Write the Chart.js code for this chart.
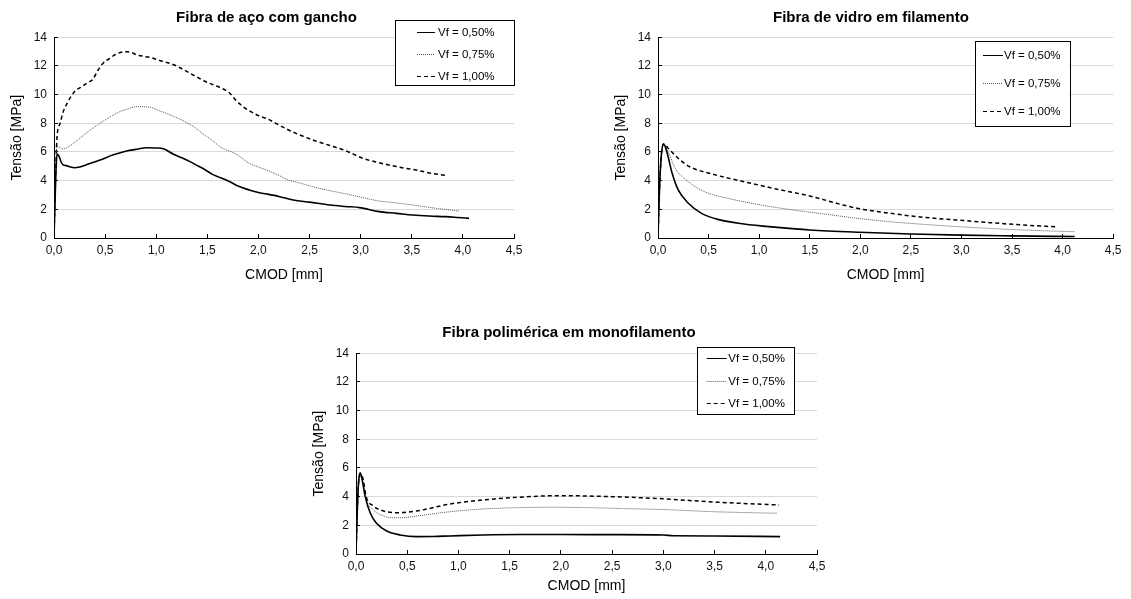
<!DOCTYPE html>
<html>
<head>
<meta charset="utf-8">
<title>Tensão x CMOD</title>
<script src="https://cdn.jsdelivr.net/npm/chart.js@4.4.1/dist/chart.umd.min.js"></script>
<style>
  body { margin: 0; background: #fff; }
  #wrap { position: relative; width: 1131px; height: 599px; overflow: hidden; }
  canvas { position: absolute; }
</style>
</head>
<body>
<div id="wrap">
  <canvas id="chartSteel" width="560" height="290" style="left:0;top:0"></canvas>
  <canvas id="chartGlass" width="527" height="290" style="left:604px;top:0"></canvas>
  <canvas id="chartPoly" width="560" height="283" style="left:302px;top:316px"></canvas>
</div>
<script>
// Labels
const chartTitles = ['Fibra de aço com gancho', 'Fibra de vidro em filamento', 'Fibra polimérica em monofilamento'];
const seriesLabels = ['Vf = 0,50%', 'Vf = 0,75%', 'Vf = 1,00%'];
const xTickLabels = ['0,0', '0,5', '1,0', '1,5', '2,0', '2,5', '3,0', '3,5', '4,0', '4,5'];
const yTickLabels = ['0', '2', '4', '6', '8', '10', '12', '14'];

// [CMOD mm, tensão MPa]
const steel050 = [[0,0],[0.01,2.5],[0.02,4.8],[0.03,5.86],[0.05,5.7],[0.07,5.3],[0.09,5.1],[0.12,5.05],[0.16,4.95],[0.2,4.9],[0.24,4.93],[0.35,5.2],[0.45,5.44],[0.58,5.8],[0.71,6.07],[0.8,6.18],[0.905,6.3],[1.0,6.28],[1.07,6.23],[1.165,5.86],[1.25,5.6],[1.33,5.33],[1.39,5.1],[1.47,4.8],[1.55,4.44],[1.63,4.2],[1.72,3.93],[1.8,3.62],[1.91,3.35],[2.0,3.17],[2.08,3.07],[2.2,2.9],[2.34,2.65],[2.5,2.5],[2.7,2.3],[2.85,2.2],[2.99,2.12],[3.18,1.84],[3.35,1.72],[3.51,1.6],[3.67,1.53],[3.83,1.49],[3.95,1.43],[4.06,1.37]];
const steel075 = [[0,0],[0.01,3],[0.02,5.5],[0.03,6.42],[0.06,6.3],[0.09,6.21],[0.15,6.4],[0.25,6.95],[0.35,7.5],[0.45,8.0],[0.55,8.45],[0.645,8.81],[0.72,9.0],[0.81,9.16],[0.94,9.12],[1.02,8.9],[1.1,8.7],[1.18,8.45],[1.26,8.19],[1.39,7.65],[1.45,7.3],[1.52,6.95],[1.65,6.26],[1.78,5.86],[1.91,5.21],[2.0,4.95],[2.08,4.74],[2.21,4.33],[2.29,4.05],[2.4,3.85],[2.53,3.58],[2.7,3.3],[2.86,3.07],[3.0,2.85],[3.18,2.58],[3.35,2.45],[3.51,2.3],[3.74,2.07],[3.96,1.88]];
const steel100 = [[0,0],[0.01,3],[0.02,5.5],[0.03,7.07],[0.06,8.0],[0.09,8.8],[0.12,9.28],[0.2,10.2],[0.26,10.5],[0.32,10.8],[0.38,11.07],[0.43,11.7],[0.48,12.19],[0.55,12.55],[0.61,12.84],[0.71,13.0],[0.76,12.93],[0.81,12.77],[0.9,12.65],[0.97,12.54],[1.05,12.35],[1.13,12.19],[1.2,12.0],[1.26,11.77],[1.39,11.26],[1.47,10.95],[1.56,10.68],[1.64,10.45],[1.72,10.1],[1.78,9.6],[1.85,9.16],[1.93,8.8],[2.01,8.51],[2.09,8.3],[2.17,8.0],[2.29,7.55],[2.4,7.2],[2.53,6.84],[2.7,6.45],[2.86,6.07],[3.02,5.56],[3.18,5.25],[3.35,4.98],[3.57,4.7],[3.7,4.5],[3.83,4.37]];

const glass050 = [[0,0],[0.01,2.5],[0.03,5.5],[0.055,6.56],[0.08,6.2],[0.1,5.67],[0.14,4.51],[0.2,3.35],[0.3,2.42],[0.43,1.72],[0.59,1.3],[0.85,0.98],[1.18,0.74],[1.5,0.56],[1.99,0.4],[2.5,0.28],[3.0,0.2],[3.5,0.15],[4.12,0.1]];
const glass075 = [[0,0],[0.01,2.5],[0.03,5.5],[0.055,6.5],[0.1,6.02],[0.17,4.86],[0.3,3.93],[0.46,3.23],[0.69,2.77],[1.02,2.3],[1.34,1.95],[1.67,1.65],[2.0,1.35],[2.3,1.13],[2.63,0.95],[2.95,0.8],[3.28,0.67],[3.6,0.56],[4.06,0.45],[4.12,0.44]];
const glass100 = [[0,0],[0.01,2.5],[0.03,5.5],[0.055,6.56],[0.1,6.26],[0.2,5.56],[0.3,5.02],[0.53,4.47],[0.85,3.93],[1.18,3.4],[1.5,2.93],[1.83,2.3],[2.0,2.03],[2.3,1.72],[2.63,1.44],[2.95,1.26],[3.28,1.07],[3.6,0.91],[3.95,0.77]];

const poly050 = [[0,0],[0.01,2.5],[0.025,5.0],[0.04,5.67],[0.06,5.2],[0.09,4.0],[0.14,2.84],[0.2,2.14],[0.3,1.6],[0.43,1.33],[0.59,1.21],[0.75,1.22],[0.92,1.26],[1.24,1.33],[1.6,1.36],[2.0,1.36],[2.5,1.35],[3.0,1.33],[3.1,1.27],[3.5,1.26],[4.14,1.21]];
const poly075 = [[0,0],[0.01,2.5],[0.025,4.8],[0.04,5.5],[0.06,5.1],[0.1,3.77],[0.17,3.07],[0.27,2.65],[0.36,2.53],[0.45,2.53],[0.59,2.65],[0.92,2.95],[1.24,3.14],[1.57,3.23],[1.89,3.26],[2.21,3.24],[2.6,3.17],[3.0,3.1],[3.49,2.95],[4.11,2.84]];
const poly100 = [[0,0],[0.01,2.5],[0.025,5.0],[0.05,5.6],[0.07,5.2],[0.1,4.0],[0.17,3.35],[0.27,3.0],[0.4,2.88],[0.59,3.0],[0.92,3.49],[1.24,3.77],[1.57,3.95],[2.0,4.07],[2.5,4.0],[3.0,3.85],[3.5,3.62],[4.13,3.42]];

const FONT = "'Liberation Sans', Arial, sans-serif";

const lineStyles = [
    { borderColor: '#000', borderWidth: 1.6, borderDash: [] },
    { borderColor: '#555', borderWidth: 1, borderDash: [1, 1] },
    { borderColor: '#000', borderWidth: 1.5, borderDash: [4, 3] }
];

// Boxed legend inside the plot, like the Excel original
const boxLegend = {
    id: 'boxLegend',
    afterDraw(chart, args, opts) {
        const ctx = chart.ctx;
        const [bx, by, bw, bh] = opts.box;
        ctx.save();
        ctx.fillStyle = '#fff';
        ctx.fillRect(bx, by, bw, bh);
        ctx.strokeStyle = '#000';
        ctx.lineWidth = 1;
        ctx.strokeRect(Math.round(bx) + 0.5, Math.round(by) + 0.5, Math.round(bw), Math.round(bh));
        ctx.font = '11.5px ' + FONT;
        ctx.textBaseline = 'middle';
        chart.data.datasets.forEach((ds, i) => {
            const y = Math.round(opts.rows[i]) + 0.5;
            ctx.beginPath();
            ctx.setLineDash(ds.borderDash || []);
            ctx.strokeStyle = ds.borderColor;
            ctx.lineWidth = 1;
            ctx.moveTo(opts.sample[0], y);
            ctx.lineTo(opts.sample[1], y);
            ctx.stroke();
            ctx.setLineDash([]);
            ctx.fillStyle = '#000';
            ctx.fillText(ds.label, opts.textX, y + 0.5);
        });
        ctx.restore();
    }
};

function makeChart(canvasId, title, series, lay) {
    const ctx = document.getElementById(canvasId).getContext('2d');
    return new Chart(ctx, {
        type: 'line',
        data: {
            datasets: series.map((pts, i) => ({
                label: seriesLabels[i],
                data: pts.map(p => ({ x: p[0], y: p[1] })),
                ...lineStyles[i],
                pointRadius: 0,
                fill: false,
                cubicInterpolationMode: 'monotone'
            }))
        },
        options: {
            responsive: false,
            animation: false,
            devicePixelRatio: 1,
            layout: { padding: { left: lay.padLeft, right: lay.padRight, top: 0, bottom: 0 } },
            plugins: {
                legend: { display: false },
                tooltip: { enabled: false },
                title: {
                    display: true,
                    text: title,
                    color: '#000',
                    font: { family: FONT, size: 15, weight: 'bold' },
                    padding: { top: lay.titleTop, bottom: lay.titleBottom }
                },
                boxLegend: lay.legend
            },
            scales: {
                x: {
                    type: 'linear',
                    min: 0,
                    max: 4.5,
                    afterFit: s => { s.height = lay.xHeight; },
                    ticks: {
                        stepSize: 0.5,
                        autoSkip: false,
                        maxRotation: 0,
                        padding: 9.5,
                        color: '#111',
                        font: { family: FONT, size: 12 },
                        callback: v => xTickLabels[Math.round(v / 0.5)]
                    },
                    grid: { drawOnChartArea: false, drawTicks: true, tickLength: -4, color: '#000', tickColor: '#000' },
                    border: { display: true, color: '#000', width: 1 },
                    title: {
                        display: true,
                        text: 'CMOD [mm]',
                        color: '#000',
                        font: { family: FONT, size: 14 },
                        padding: { top: 0, bottom: lay.xTitleBottom }
                    }
                },
                y: {
                    min: 0,
                    max: 14,
                    afterFit: s => { s.width = lay.yWidth; },
                    ticks: {
                        stepSize: 2,
                        padding: 11,
                        color: '#111',
                        font: { family: FONT, size: 12 },
                        callback: v => yTickLabels[Math.round(v / 2)]
                    },
                    grid: { color: '#d9d9d9', drawTicks: true, tickLength: -4, tickColor: '#000' },
                    border: { display: true, color: '#000', width: 1 },
                    title: {
                        display: true,
                        text: 'Tensão [MPa]',
                        color: '#000',
                        font: { family: FONT, size: 14 },
                        padding: { top: -10.4, bottom: 0 }
                    }
                }
            }
        },
        plugins: [boxLegend]
    });
}

makeChart('chartSteel', chartTitles[0], [steel050, steel075, steel100], {
    padLeft: 19, padRight: 46, yWidth: 35, xHeight: 52,
    titleTop: 9.3, titleBottom: 10, xTitleBottom: 6.9,
    legend: { box: [395, 20, 119, 65], sample: [417, 435], textX: 438, rows: [32.3, 54, 75.7] }
});

makeChart('chartGlass', chartTitles[1], [glass050, glass075, glass100], {
    padLeft: 19, padRight: 12.2, yWidth: 35, xHeight: 52,
    titleTop: 9.3, titleBottom: 10, xTitleBottom: 6.9,
    legend: { box: [371, 40.7, 94.5, 84.7], sample: [379, 399], textX: 400, rows: [55, 83.3, 111.4] }
});

makeChart('chartPoly', chartTitles[2], [poly050, poly075, poly100], {
    padLeft: 19, padRight: 45, yWidth: 35, xHeight: 45,
    titleTop: 7.7, titleBottom: 11.6, xTitleBottom: 4.6,
    legend: { box: [395, 31.3, 97.3, 67], sample: [404.7, 424.7], textX: 426.3, rows: [42.3, 64.7, 87.3] }
});
</script>
</body>
</html>
